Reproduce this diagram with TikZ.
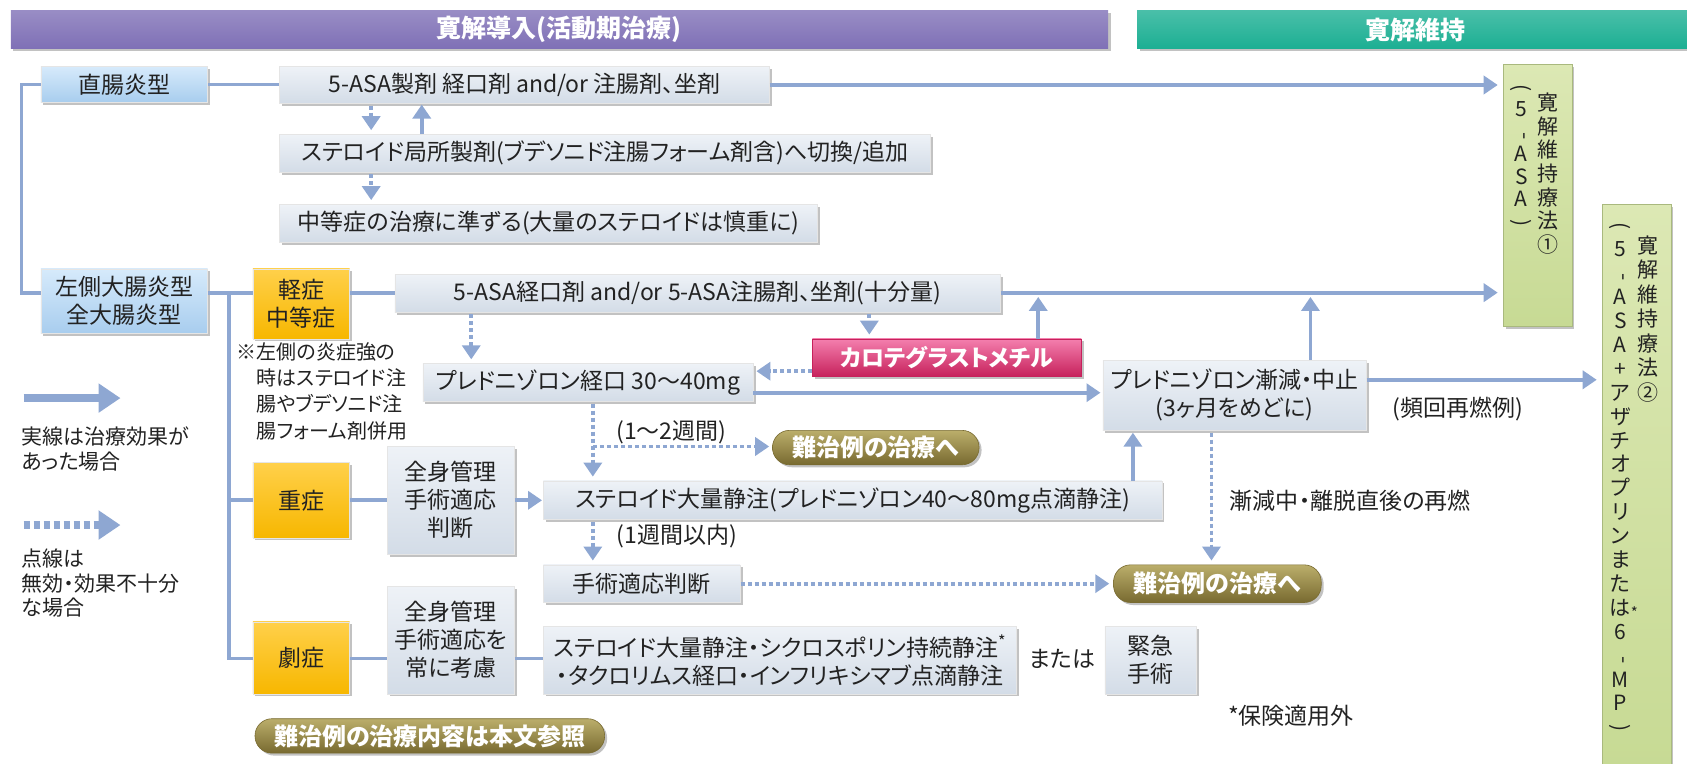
\documentclass[tikz,border=0pt]{standalone}
\usepackage{fontspec}
\setmainfont[RawFeature=+palt]{Noto Sans CJK JP}
\usepackage{graphicx}
\usetikzlibrary{arrows.meta,shadows}
\definecolor{lineblue}{HTML}{8EA7D2}
\definecolor{txt}{HTML}{222222}
\definecolor{boxtop}{HTML}{EEF2F7}
\definecolor{boxbot}{HTML}{D3DCE7}
\definecolor{bluetop}{HTML}{D6EAFB}
\definecolor{bluebot}{HTML}{A8CDEE}
\definecolor{orgtop}{HTML}{FFD04A}
\definecolor{orgbot}{HTML}{F7B700}
\definecolor{grntop}{HTML}{DCE8B4}
\definecolor{grnbot}{HTML}{C7DA94}
\definecolor{grnedge}{HTML}{A9B97E}
\definecolor{olvtop}{HTML}{BBAE6B}
\definecolor{olvbot}{HTML}{786A30}
\definecolor{pnktop}{HTML}{F47FAE}
\definecolor{pnkbot}{HTML}{C6215B}
\definecolor{purp}{HTML}{7F70B6}
\definecolor{hdrgreen}{HTML}{1CAF93}
\newcommand\mybox[7]{\node[#1, minimum width={(#5-#3)*1.076pt}, minimum height={(#6-#4)*1.076pt}] (#2) at ({(#3+#5)/2},{(#4+#6)/2}) {#7};}
\newcommand\vh{\rotatebox[origin=c]{-90}{-}}
\newcommand\vpo{\rotatebox[origin=c]{-90}{(}}
\newcommand\vpc{\rotatebox[origin=c]{-90}{)}}
\begin{document}
\begin{tikzpicture}[x=1.076pt,y=-1.076pt,
  boxbase/.style={draw=white!80!gray, line width=0.6pt, inner sep=1pt, align=center, text=txt,
    font=\fontsize{23}{28}\selectfont,
    drop shadow={shadow xshift=2.5pt, shadow yshift=-2.5pt, fill=black!60, opacity=0.4}},
  gbox/.style={boxbase, top color=boxtop, bottom color=boxbot},
  bbox/.style={boxbase, top color=bluetop, bottom color=bluebot},
  obox/.style={boxbase, top color=orgtop, bottom color=orgbot},
  vbox/.style={boxbase, top color=grntop, bottom color=grnbot, draw=grnedge},
  pillbox/.style={boxbase, draw=olvbot, rounded corners=17pt, top color=olvtop, bottom color=olvbot, text=white, font=\fontsize{24}{28}\selectfont\bfseries},
  carbox/.style={boxbase, draw=pnkbot, top color=pnktop, bottom color=pnkbot, text=white, font=\fontsize{23}{28}\selectfont\bfseries},
  hdrbox/.style={boxbase, draw=none, text=white, font=\fontsize{25}{28}\selectfont\bfseries},
  lbl/.style={inner sep=0pt, text=txt, font=\fontsize{23}{28}\selectfont},
  vtext/.style={inner sep=0pt, align=center, text=txt, anchor=north},
  ln/.style={draw=lineblue, line width=3.8pt},
  arr/.style={ln, -{Triangle[width=18pt,length=14pt]}},
  dotln/.style={ln, dash pattern=on 4pt off 3pt},
  darr/.style={dotln, -{Triangle[width=18pt,length=14pt]}},
  bigarr/.style={draw=lineblue, line width=8pt, -{Triangle[width=28pt,length=22pt]}},
  bigdarr/.style={bigarr, dash pattern=on 6pt off 4pt},
]
\useasboundingbox (0,0) rectangle (1568,710);

% headers
\mybox{hdrbox, top color=purp!80!white, bottom color=purp}{hL}{10}{10}{1030}{45}{寛解導入(活動期治療)}
\mybox{hdrbox, top color=hdrgreen!80!white, bottom color=hdrgreen}{hR}{1057}{10}{1575}{45}{寛解維持}

% maintenance boxes
\mybox{vbox}{g1}{1397}{60}{1461}{303}{}
\mybox{vbox}{g2}{1489}{190}{1553}{716}{}
\node[vtext, font=\fontsize{21}{23.7}\selectfont] (g1r) at (1439,86) {寛\\解\\維\\持\\療\\法\\①};
\node[vtext, font=\fontsize{21}{22.5}\selectfont] (g1l) at (1414,78) {\vpo\\5\\\vh\\A\\S\\A\\\vpc};
\node[vtext, font=\fontsize{21}{24.5}\selectfont] (g2r) at (1532,219) {寛\\解\\維\\持\\療\\法\\②};
\node[vtext, font=\fontsize{21}{23.9}\selectfont] (g2l) at (1506,207) {\vpo\\5\\\vh\\A\\S\\A\\+\\ア\\ザ\\チ\\オ\\プ\\リ\\ン\\ま\\た\\は\rlap{\raisebox{-3pt}{\fontsize{15}{15}\selectfont *}}\\6\\\vh\\M\\P\\\vpc};

% left column
\mybox{bbox}{rect}{38}{62}{193}{95}{直腸炎型}
\mybox{bbox}{left}{38}{250}{193}{310}{左側大腸炎型\\全大腸炎型}
\mybox{obox}{mild}{235}{250}{325}{315}{軽症\\中等症}
\mybox{obox}{sev}{235}{430}{325}{500}{重症}
\mybox{obox}{fulm}{235}{578}{325}{645}{劇症}

% treatment boxes
\mybox{gbox}{asa1}{260}{62}{715}{96}{5-ASA製剤 経口剤 and/or 注腸剤、坐剤}
\mybox{gbox}{stl}{260}{125}{865}{160}{ステロイド局所製剤(ブデソニド注腸フォーム剤含)へ切換/追加}
\mybox{gbox}{mod}{260}{190}{760}{225}{中等症の治療に準ずる(大量のステロイドは慎重に)}
\mybox{gbox}{asa2}{367}{255}{930}{290}{5-ASA経口剤 and/or 5-ASA注腸剤、坐剤(十分量)}
\mybox{carbox}{car}{755}{315}{1005}{350}{カロテグラストメチル}
\mybox{gbox}{po}{393}{338}{700}{373}{プレドニゾロン経口 30～40mg}
\mybox{gbox}{pt}{1025}{335}{1270}{400}{プレドニゾロン漸減・中止\\(3ヶ月をめどに)}
\mybox{pillbox}{d1}{718}{400}{910}{432}{難治例の治療へ}
\mybox{gbox}{m1}{360}{415}{478}{515}{全身管理\\手術適応\\判断}
\mybox{gbox}{siv}{505}{447}{1080}{483}{ステロイド大量静注(プレドニゾロン40～80mg点滴静注)}
\mybox{gbox}{sj}{505}{525}{688}{560}{手術適応判断}
\mybox{pillbox}{d2}{1035}{525}{1228}{560}{難治例の治療へ}
\mybox{gbox}{m2}{360}{545}{478}{645}{全身管理\\手術適応を\\常に考慮}
\mybox{gbox}{res}{505}{582}{945}{645}{ステロイド大量静注・シクロスポリン持続静注\textsuperscript{*}\\・タクロリムス経口・インフリキシマブ点滴静注}
\mybox{gbox}{em}{1027}{582}{1112}{645}{緊急\\手術}
\mybox{pillbox}{d3}{237}{668}{562}{700}{難治例の治療内容は本文参照}

% labels
\node[lbl] (l12) at (624,402) {(1～2週間)};
\node[lbl] (l1w) at (629,498) {(1週間以内)};
\node[lbl] (lsg) at (1255,465) {漸減中・離脱直後の再燃};
\node[lbl] (lfr) at (1355,380) {(頻回再燃例)};
\node[lbl] (lor) at (987,612) {または};
\node[lbl] (lins) at (1200,665) {*保険適用外};
\node[lbl, anchor=north west, align=left, font=\fontsize{20}{26.4}\selectfont] (note) at (220,318)
  {※左側の炎症強の\\\hphantom{※}時はステロイド注\\\hphantom{※}腸やブデソニド注\\\hphantom{※}腸フォーム剤併用};

% legend
\coordinate (lg1a) at (22,370); \coordinate (lg1b) at (112,370);
\coordinate (lg2a) at (22,488); \coordinate (lg2b) at (112,488);
\draw[bigarr] (lg1a) -- (lg1b);
\draw[bigdarr] (lg2a) -- (lg2b);
\node[lbl, anchor=north west, align=left, font=\fontsize{21}{25}\selectfont] (leg1) at (20,396) {実線は治療効果が\\あった場合};
\node[lbl, anchor=north west, align=left, font=\fontsize{21}{24.5}\selectfont] (leg2) at (20,510) {点線は\\無効・効果不十分\\な場合};

% connectors
\coordinate (trunkTop) at (213,272);
\coordinate (trunkBot) at (213,612);
\draw[ln] (rect.west) -| (20,272) -- (left.west |- 0,272);
\draw[ln] (rect.east) -- (asa1.west |- rect.east);
\draw[arr, shorten >=5pt] (asa1.east) -- (asa1.east -| g1.west);
\draw[darr, shorten >=4pt, shorten <=2pt] (asa1.south -| 345,0) -- (stl.north -| 345,0);
\draw[arr, shorten >=1pt] (stl.north -| 392,0) -- (asa1.south -| 392,0);
\draw[darr, shorten >=4pt, shorten <=2pt] (stl.south -| 345,0) -- (mod.north -| 345,0);
\draw[ln] (left.east |- 0,272) -- (mild.west |- 0,272);
\draw[ln] (trunkTop) -- (trunkBot) -- (fulm.west |- trunkBot);
\draw[ln] (trunkTop |- 0,465) -- (sev.west |- 0,465);
\draw[ln] (mild.east |- 0,272) -- (asa2.west |- 0,272);
\draw[arr, shorten >=5pt] (asa2.east |- 0,272) -- (g1.west |- 0,272);
\draw[darr, shorten >=4pt, shorten <=2pt] (asa2.south -| 808,0) -- (car.north -| 808,0);
\draw[darr, shorten >=4pt, shorten <=2pt] (asa2.south -| 438,0) -- (po.north -| 438,0);
\draw[arr] (car.north -| 965,0) -- (965,276);
\draw[arr] (pt.north -| 1218,0) -- (1218,276);
\draw[darr, shorten >=3pt] (car.west |- 0,345) -- (po.east |- 0,345);
\draw[arr, shorten >=2pt] (po.east |- 0,365) -- (pt.west |- 0,365);
\draw[arr, shorten >=5pt] (pt.east |- 0,353) -- (g2.west |- 0,353);
\draw[darr, shorten >=4pt, shorten <=2pt] (po.south -| 551,0) -- (siv.north -| 551,0);
\draw[darr, shorten >=3pt] (551,415) -- (d1.west |- 0,415);
\draw[ln] (sev.east |- 0,465) -- (m1.west |- 0,465);
\draw[arr, shorten >=1pt] (m1.east |- 0,465) -- (siv.west |- 0,465);
\draw[arr, shorten >=2pt] (siv.north -| 1053,0) -- (pt.south -| 1053,0);
\draw[darr, shorten >=4pt, shorten <=2pt] (siv.south -| 551,0) -- (sj.north -| 551,0);
\draw[darr, shorten >=4pt] (sj.east) -- (d2.west |- sj.east);
\draw[darr, shorten >=4pt, shorten <=2pt] (pt.south -| 1126,0) -- (d2.north -| 1126,0);
\draw[ln] (fulm.east |- 0,612) -- (m2.west |- 0,612);
\draw[ln] (m2.east |- 0,612) -- (res.west |- 0,612);
\end{tikzpicture}
\end{document}
